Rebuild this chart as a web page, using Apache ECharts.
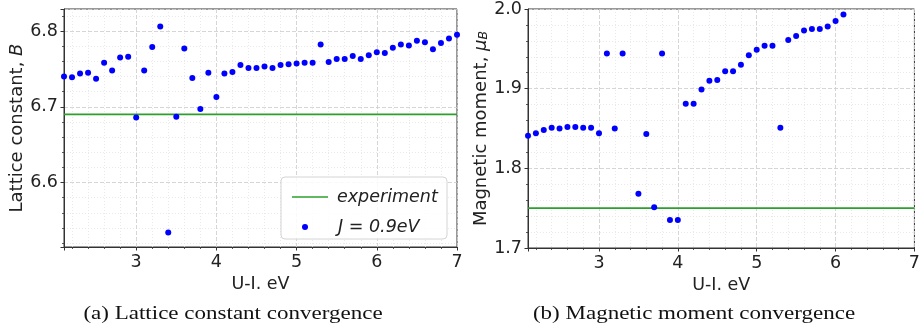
<!DOCTYPE html>
<html>
<head>
<meta charset="utf-8">
<script src="https://cdn.jsdelivr.net/npm/echarts@6/dist/echarts.min.js"></script>
<style>
  html, body { margin: 0; padding: 0; background: #ffffff; }
  #chart { width: 923px; height: 328px; }
</style>
</head>
<body>
<div id="chart"></div>
<script>
// U-J scan, eV
const uLattice = [2.1, 2.2, 2.3, 2.4, 2.5, 2.6, 2.7, 2.8, 2.9, 3.0,
                  3.1, 3.2, 3.3, 3.4, 3.5, 3.6, 3.7, 3.8, 3.9, 4.0,
                  4.1, 4.2, 4.3, 4.4, 4.5, 4.6, 4.7, 4.8, 4.9, 5.0,
                  5.1, 5.2, 5.3, 5.4, 5.5, 5.6, 5.7, 5.8, 5.9, 6.0,
                  6.1, 6.2, 6.3, 6.4, 6.5, 6.6, 6.7, 6.8, 6.9, 7.0];
// Lattice constant B for each U value
const latticeB = [6.740, 6.739, 6.744, 6.745, 6.737, 6.758, 6.748, 6.765, 6.766, 6.686,
                  6.748, 6.779, 6.806, 6.534, 6.687, 6.777, 6.738, 6.697, 6.745, 6.713,
                  6.744, 6.746, 6.755, 6.751, 6.751, 6.753, 6.751, 6.755, 6.756, 6.757,
                  6.758, 6.758, 6.782, 6.759, 6.763, 6.763, 6.767, 6.763, 6.768, 6.772,
                  6.771, 6.778, 6.782, 6.781, 6.787, 6.785, 6.776, 6.784, 6.790, 6.795];

const uMoment = [2.1, 2.2, 2.3, 2.4, 2.5, 2.6, 2.7, 2.8, 2.9, 3.0,
                 3.1, 3.2, 3.3, 3.4, 3.5, 3.6, 3.7, 3.8, 3.9, 4.0,
                 4.1, 4.2, 4.3, 4.4, 4.5, 4.6, 4.7, 4.8, 4.9, 5.0,
                 5.1, 5.2, 5.3, 5.4, 5.5, 5.6, 5.7, 5.8, 5.9, 6.0, 6.1];
// Magnetic moment (mu_B); the 3.4 run gave no value
const momentMuB = [1.841, 1.844, 1.848, 1.851, 1.850, 1.852, 1.852, 1.851, 1.851, 1.844,
                   1.944, 1.850, 1.944, null, 1.768, 1.843, 1.751, 1.944, 1.735, 1.735,
                   1.881, 1.881, 1.899, 1.910, 1.911, 1.922, 1.922, 1.930, 1.942, 1.949,
                   1.954, 1.954, 1.851, 1.961, 1.966, 1.973, 1.975, 1.975, 1.978, 1.985, 1.993];

// Experimental reference values
const expLattice = 6.69;
const expMoment = 1.75;

// Axis ranges and labelled ticks
const uRange = [2.1, 7.0];
const latticeRange = [6.515, 6.829];
const momentRange = [1.7, 2.0];
const uTickLabels = [3, 4, 5, 6, 7];
const latticeTickLabels = [6.6, 6.7, 6.8];
const momentTickLabels = [1.7, 1.8, 1.9, 2.0];

const SANS = 'DejaVu Sans';
const INK = '#222222';
const SPINE = '#333333';

const has = (list, v) => list.some(t => Math.abs(t - v) < 1e-6);

const majorSplit = { show: true, lineStyle: { color: '#cdcdcd', type: [4, 2], width: 0.8 } };
const minorSplit = { show: true, lineStyle: { color: '#e3e3e3', type: [1, 2], width: 0.8 } };

function mainX(gridIndex) {
  return {
    type: 'value', gridIndex, min: uRange[0], max: uRange[1], splitNumber: 5,
    position: 'bottom', z: 2,
    axisLine: { show: true, onZero: false, lineStyle: { color: SPINE, width: 1 } },
    axisTick: { show: true, length: 3.5, lineStyle: { color: SPINE, width: 1 } },
    axisLabel: {
      margin: 6, fontFamily: SANS, fontSize: 17.5, color: INK,
      formatter: v => has(uTickLabels, v) ? String(Math.round(v)) : ''
    },
    splitLine: majorSplit,
    name: 'U-I. eV', nameLocation: 'middle', nameGap: 27,
    nameTextStyle: { fontFamily: SANS, fontSize: 17.5, color: INK }
  };
}
function minorX(gridIndex) {
  return {
    type: 'value', gridIndex, min: uRange[0], max: uRange[1], splitNumber: 25,
    position: 'bottom', z: 1,
    axisLine: { show: false, onZero: false },
    axisTick: { show: true, length: 2, lineStyle: { color: SPINE, width: 0.8 } },
    axisLabel: { show: false },
    splitLine: minorSplit
  };
}
function mainY(gridIndex, range, labels, name, rich, gap) {
  return {
    type: 'value', gridIndex, min: range[0], max: range[1], splitNumber: 3,
    position: 'left', z: 2,
    axisLine: { show: true, onZero: false, lineStyle: { color: SPINE, width: 1 } },
    axisTick: { show: true, length: 3.5, lineStyle: { color: SPINE, width: 1 } },
    axisLabel: {
      margin: 6, fontFamily: SANS, fontSize: 17.5, color: INK,
      formatter: v => has(labels, v) ? v.toFixed(1) : ''
    },
    splitLine: majorSplit,
    name, nameLocation: 'middle', nameGap: gap, nameRotate: 90,
    nameTextStyle: { fontFamily: SANS, fontSize: 18, color: INK, rich }
  };
}
function minorY(gridIndex, range) {
  return {
    type: 'value', gridIndex, min: range[0], max: range[1], splitNumber: 15,
    position: 'left', z: 1,
    axisLine: { show: false, onZero: false },
    axisTick: { show: true, length: 2, lineStyle: { color: SPINE, width: 0.8 } },
    axisLabel: { show: false },
    splitLine: minorSplit
  };
}

const richLattice = {
  n: { fontFamily: SANS, fontSize: 18, color: INK },
  i: { fontFamily: SANS, fontSize: 18, color: INK, fontStyle: 'italic' }
};
const richMoment = {
  n: { fontFamily: SANS, fontSize: 18, color: INK },
  i: { fontFamily: SANS, fontSize: 18, color: INK, fontStyle: 'italic' },
  s: { fontFamily: SANS, fontSize: 12.5, color: INK, fontStyle: 'italic', verticalAlign: 'bottom', padding: [5, 0, 0, 0] }
};

const pairs = (xs, ys) => xs.map((x, k) => [x, ys[k]]).filter(p => p[1] != null);

const dotStyle = { color: '#0000ff', opacity: 1 };
const expLine = { color: '#2ca02c', width: 1.6 };
const legendText = { fontFamily: SANS, fontSize: 17.5, fontStyle: 'italic', color: INK, padding: [0, 0, 0, 4] };
const legendTextDot = Object.assign({}, legendText, { padding: [0, 0, 0, 10] });
const captionFont = '19.5px "Liberation Serif"';

const option = {
  animation: false,
  backgroundColor: '#ffffff',
  grid: [
    { left: 64, top: 9, width: 393, height: 238, show: true, borderColor: SPINE, borderWidth: 1, backgroundColor: 'transparent' },
    { left: 528, top: 9, width: 392, height: 239, show: true, borderColor: SPINE, borderWidth: 1, backgroundColor: 'transparent' }
  ],
  xAxis: [mainX(0), minorX(0), mainX(1), minorX(1)],
  yAxis: [
    mainY(0, latticeRange, latticeTickLabels, '{n|Lattice constant, }{i|B}', richLattice, 37),
    minorY(0, latticeRange),
    mainY(1, momentRange, momentTickLabels, '{n|Magnetic moment, }{i|μ}{s|B}', richMoment, 38),
    minorY(1, momentRange)
  ],
  legend: [
    {
      data: [{ name: 'experiment', icon: 'rect' }], left: 287, top: 183, orient: 'vertical',
      itemWidth: 36, itemHeight: 1.6, selectedMode: false, z: 6,
      textStyle: legendText
    },
    {
      data: [{ name: 'J = 0.9eV', icon: 'circle' }], left: 297, top: 213, orient: 'vertical',
      itemWidth: 36, itemHeight: 6, selectedMode: false, z: 6,
      textStyle: legendTextDot
    }
  ],
  graphic: [
    { type: 'rect', z: 5, shape: { x: 281, y: 177, width: 166, height: 62, r: 4 },
      style: { fill: 'rgba(255,255,255,0.85)', stroke: '#d4d4d4', lineWidth: 1 } },
    { type: 'text', x: 233, y: 314, z: 5, scaleX: 1.18, originX: 0, originY: 0,
      style: { text: '(a) Lattice constant convergence', font: captionFont, fill: '#111', textAlign: 'center', textVerticalAlign: 'middle' } },
    { type: 'text', x: 694, y: 314, z: 5, scaleX: 1.18, originX: 0, originY: 0,
      style: { text: '(b) Magnetic moment convergence', font: captionFont, fill: '#111', textAlign: 'center', textVerticalAlign: 'middle' } }
  ],
  series: [
    {
      name: 'experiment', type: 'line', xAxisIndex: 0, yAxisIndex: 0,
      data: [[uRange[0], expLattice], [uRange[1], expLattice]],
      symbol: 'none', lineStyle: expLine, itemStyle: { color: expLine.color }, z: 3
    },
    {
      name: 'J = 0.9eV', type: 'scatter', xAxisIndex: 0, yAxisIndex: 0,
      data: pairs(uLattice, latticeB), symbolSize: 6, itemStyle: dotStyle, z: 4
    },
    {
      name: 'experiment', type: 'line', xAxisIndex: 2, yAxisIndex: 2,
      data: [[uRange[0], expMoment], [uRange[1], expMoment]],
      symbol: 'none', lineStyle: expLine, itemStyle: { color: expLine.color }, z: 3
    },
    {
      name: 'J = 0.9eV', type: 'scatter', xAxisIndex: 2, yAxisIndex: 2,
      data: pairs(uMoment, momentMuB), symbolSize: 6, itemStyle: dotStyle, z: 4
    }
  ]
};

const chart = echarts.init(document.getElementById('chart'));
chart.setOption(option);
</script>
</body>
</html>
